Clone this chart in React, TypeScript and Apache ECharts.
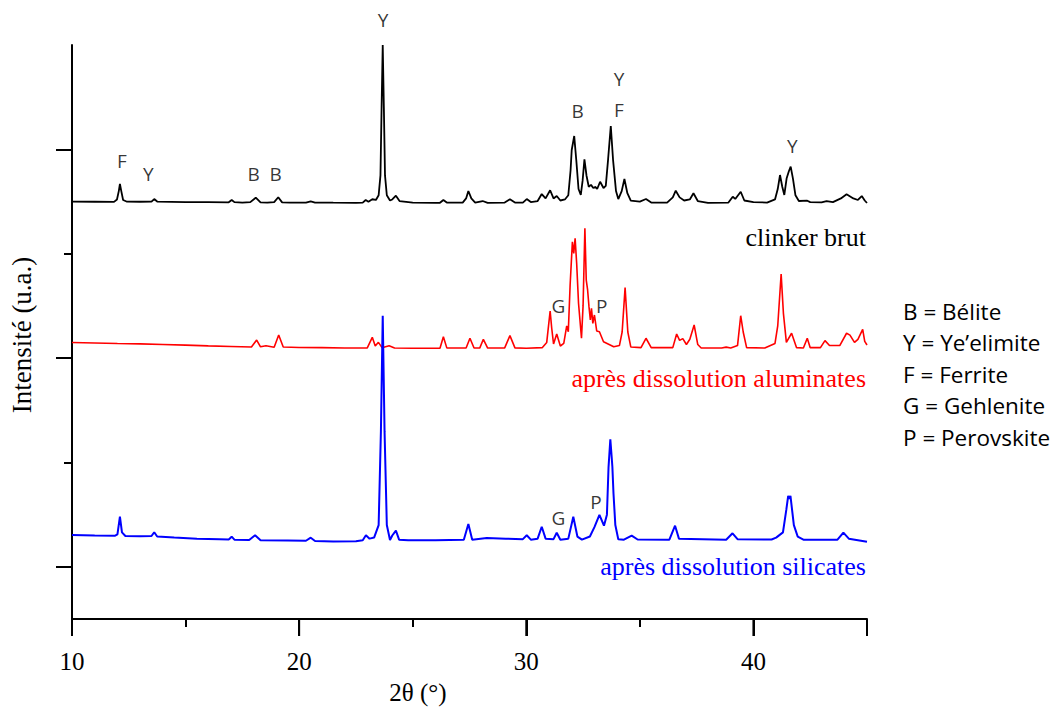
import React, { useEffect, useRef } from 'react';
import * as echarts from 'echarts';

// 2θ (°) / intensity (a.u., with vertical offsets)
const clinkerBrut: [number, number][] = [
  [10.0, 3.5], [11.0, 3.498], [11.85, 3.497], [11.98, 3.52], [12.06, 3.6], [12.11, 3.668], [12.17, 3.6], [12.25, 3.515],
  [12.4, 3.5], [13.0, 3.498], [13.5, 3.499], [13.62, 3.524], [13.75, 3.5], [15.0, 3.495], [16.0, 3.494], [16.9, 3.493],
  [17.03, 3.515], [17.15, 3.494], [17.5, 3.49], [17.85, 3.494], [18.09, 3.537], [18.3, 3.492], [18.6, 3.49], [18.9, 3.495],
  [19.08, 3.541], [19.25, 3.492], [19.6, 3.49], [20.3, 3.49], [20.51, 3.502], [20.7, 3.49], [21.5, 3.489], [22.5, 3.488],
  [22.8, 3.49], [22.93, 3.515], [23.05, 3.498], [23.22, 3.522], [23.38, 3.515], [23.5, 3.56], [23.58, 3.75], [23.63, 4.4],
  [23.68, 5.0], [23.73, 4.4], [23.78, 3.75], [23.86, 3.56], [24.0, 3.51], [24.1, 3.52], [24.26, 3.556], [24.42, 3.505],
  [25.0, 3.49], [26.0, 3.488], [26.2, 3.488], [26.35, 3.515], [26.5, 3.49], [27.2, 3.49], [27.35, 3.53], [27.45, 3.601],
  [27.58, 3.53], [27.75, 3.49], [28.08, 3.505], [28.3, 3.488], [29.05, 3.49], [29.28, 3.522], [29.5, 3.49], [29.85, 3.49],
  [30.02, 3.524], [30.2, 3.495], [30.5, 3.505], [30.68, 3.572], [30.85, 3.53], [31.05, 3.608], [31.2, 3.53], [31.34, 3.553],
  [31.5, 3.51], [31.7, 3.52], [31.85, 3.56], [31.95, 3.8], [32.0, 3.994], [32.11, 4.128], [32.2, 3.9], [32.3, 3.62],
  [32.4, 3.563], [32.48, 3.7], [32.56, 3.905], [32.65, 3.75], [32.75, 3.642], [32.85, 3.66], [32.95, 3.63], [33.05, 3.64],
  [33.12, 3.62], [33.25, 3.69], [33.4, 3.63], [33.5, 3.65], [33.6, 3.9], [33.72, 4.224], [33.82, 3.9], [33.95, 3.6],
  [34.05, 3.524], [34.2, 3.6], [34.32, 3.716], [34.45, 3.58], [34.6, 3.508], [35.0, 3.5], [35.27, 3.524], [35.5, 3.49],
  [36.2, 3.49], [36.45, 3.54], [36.58, 3.604], [36.75, 3.54], [36.95, 3.51], [37.2, 3.52], [37.36, 3.579], [37.55, 3.505],
  [38.0, 3.488], [38.9, 3.49], [39.09, 3.546], [39.2, 3.525], [39.44, 3.594], [39.6, 3.51], [40.0, 3.495], [40.6, 3.49],
  [40.95, 3.52], [41.07, 3.62], [41.17, 3.754], [41.27, 3.642], [41.36, 3.563], [41.46, 3.72], [41.56, 3.79], [41.64, 3.834],
  [41.74, 3.72], [41.85, 3.56], [42.0, 3.505], [42.37, 3.508], [42.5, 3.495], [43.0, 3.492], [43.22, 3.505], [43.5, 3.495],
  [43.85, 3.53], [44.1, 3.57], [44.4, 3.53], [44.6, 3.515], [44.77, 3.553], [44.9, 3.51], [45.0, 3.486],
];

const apresAluminates: [number, number][] = [
  [10.0, 2.15], [11.0, 2.145], [12.0, 2.14], [13.0, 2.136], [14.0, 2.13], [15.0, 2.124], [16.0, 2.117], [17.0, 2.111],
  [17.9, 2.106], [18.13, 2.173], [18.3, 2.108], [18.54, 2.118], [18.9, 2.104], [19.1, 2.221], [19.3, 2.106], [20.0, 2.102],
  [21.0, 2.1], [22.0, 2.097], [23.0, 2.098], [23.22, 2.199], [23.35, 2.115], [23.49, 2.151], [23.65, 2.1], [23.96, 2.119],
  [24.2, 2.097], [25.0, 2.095], [26.2, 2.095], [26.35, 2.205], [26.5, 2.098], [27.35, 2.096], [27.52, 2.19], [27.7, 2.097],
  [27.95, 2.096], [28.11, 2.18], [28.3, 2.096], [29.05, 2.098], [29.28, 2.215], [29.5, 2.098], [30.0, 2.095], [30.7, 2.1],
  [30.9, 2.15], [31.05, 2.451], [31.12, 2.286], [31.2, 2.135], [31.34, 2.231], [31.5, 2.116], [31.65, 2.14], [31.78, 2.308],
  [31.85, 2.253], [31.93, 2.7], [32.03, 3.115], [32.09, 3.004], [32.15, 3.148], [32.22, 2.9], [32.3, 2.525], [32.43, 2.19],
  [32.5, 2.5], [32.58, 3.244], [32.64, 2.748], [32.7, 2.653], [32.76, 2.493], [32.82, 2.365], [32.87, 2.477], [32.93, 2.333],
  [33.0, 2.413], [33.1, 2.26], [33.22, 2.253], [33.4, 2.157], [33.85, 2.109], [34.1, 2.12], [34.22, 2.25], [34.35, 2.675],
  [34.47, 2.25], [34.6, 2.107], [35.05, 2.1], [35.27, 2.19], [35.5, 2.1], [36.45, 2.1], [36.62, 2.231], [36.75, 2.17],
  [36.89, 2.187], [37.05, 2.13], [37.2, 2.18], [37.39, 2.317], [37.55, 2.13], [37.7, 2.097], [38.6, 2.096], [38.8, 2.105],
  [39.0, 2.096], [39.3, 2.12], [39.44, 2.406], [39.55, 2.25], [39.7, 2.1], [40.5, 2.096], [40.95, 2.14], [41.07, 2.308],
  [41.22, 2.806], [41.32, 2.429], [41.45, 2.15], [41.68, 2.238], [41.9, 2.1], [42.2, 2.096], [42.37, 2.19], [42.5, 2.1],
  [42.95, 2.1], [43.15, 2.167], [43.35, 2.12], [43.8, 2.12], [44.1, 2.238], [44.25, 2.22], [44.45, 2.15], [44.6, 2.18],
  [44.81, 2.276], [44.9, 2.16], [45.0, 2.125],
];

const apresSilicates: [number, number][] = [
  [10.0, 0.305], [11.0, 0.3], [11.9, 0.298], [12.0, 0.31], [12.11, 0.48], [12.2, 0.33], [12.35, 0.295], [13.0, 0.293],
  [13.5, 0.295], [13.62, 0.331], [13.75, 0.29], [14.5, 0.28], [15.5, 0.27], [16.5, 0.265], [16.9, 0.262], [17.03, 0.289],
  [17.15, 0.26], [17.8, 0.257], [18.06, 0.302], [18.3, 0.255], [19.5, 0.252], [20.3, 0.25], [20.51, 0.279], [20.7, 0.248],
  [21.5, 0.243], [22.5, 0.245], [22.8, 0.255], [22.94, 0.302], [23.1, 0.27], [23.3, 0.28], [23.5, 0.4], [23.6, 1.3],
  [23.68, 2.406], [23.76, 1.3], [23.86, 0.4], [24.0, 0.257], [24.1, 0.3], [24.26, 0.346], [24.4, 0.26], [24.8, 0.255],
  [26.0, 0.255], [27.25, 0.26], [27.45, 0.41], [27.62, 0.26], [28.26, 0.276], [29.1, 0.27], [29.85, 0.265], [30.02, 0.302],
  [30.2, 0.26], [30.5, 0.27], [30.68, 0.384], [30.85, 0.27], [31.2, 0.265], [31.34, 0.327], [31.5, 0.26], [31.85, 0.27],
  [32.07, 0.48], [32.25, 0.29], [32.45, 0.26], [32.8, 0.29], [33.0, 0.38], [33.22, 0.497], [33.42, 0.394], [33.55, 0.5],
  [33.62, 0.95], [33.7, 1.222], [33.76, 1.05], [33.79, 0.959], [33.84, 0.7], [33.92, 0.4], [34.05, 0.264], [34.3, 0.26],
  [34.64, 0.298], [34.9, 0.262], [36.3, 0.26], [36.55, 0.394], [36.72, 0.27], [38.8, 0.26], [39.08, 0.321], [39.3, 0.265],
  [40.8, 0.262], [41.0, 0.28], [41.3, 0.33], [41.45, 0.55], [41.53, 0.679], [41.58, 0.65], [41.63, 0.679], [41.78, 0.4],
  [41.95, 0.289], [42.2, 0.26], [43.7, 0.26], [43.96, 0.327], [44.2, 0.27], [45.0, 0.241],
];

// Phase annotations [2θ, intensity, letter]
const peakLabels: [number, number, string][] = [
  [12.2, 3.889, 'F'], [13.36, 3.761, 'Y'], [18.0, 3.761, 'B'], [18.97, 3.761, 'B'], [23.69, 5.24, 'Y'],
  [32.26, 4.368, 'B'], [34.08, 4.674, 'Y'], [34.08, 4.377, 'F'], [41.71, 4.035, 'Y'],
  [31.41, 2.499, 'G'], [33.32, 2.499, 'P'],
  [31.41, 0.465, 'G'], [33.07, 0.624, 'P'],
];

const seriesNames = ['clinker brut', 'après dissolution aluminates', 'après dissolution silicates'];
const seriesColors = ['#000000', '#ff0000', '#0000ff'];
const phaseLegend: [string, string][] = [
  ['B', 'Bélite'], ['Y', 'Ye’elimite'], ['F', 'Ferrite'], ['G', 'Gehlenite'], ['P', 'Perovskite'],
];

const xMajorTicks = [10, 20, 30, 40];
const xMinorTicks = [15, 25, 35, 45];
const xTickLabels = [10, 20, 30, 40];
const yMajorTicks = [0, 2, 4];
const yMinorTicks = [1, 3];

const SERIF = '"Liberation Serif", "Times New Roman", serif';
const SANS = '"Open Sans", "Noto Sans", sans-serif';

const X_MIN = 10;
const X_MAX = 45;
const Y_MIN = -0.5;
const Y_MAX = 5;

export default function App() {
  const ref = useRef<HTMLDivElement>(null);
  useEffect(() => {
    const chart = echarts.init(ref.current!, null, { renderer: 'svg' });
    const tickStyle = { color: '#000', width: 2 };
    const seriesLabelY = [237, 378, 566];
    const xBase = () => ({ type: 'value', min: X_MIN, max: X_MAX, position: 'bottom', offset: 0, splitLine: { show: false } });
    const yBase = () => ({ type: 'value', min: Y_MIN, max: Y_MAX, position: 'left', offset: 0, splitLine: { show: false } });
    chart.setOption({
      animation: false,
      backgroundColor: '#fff',
      grid: { left: 72, right: 188, top: 45, bottom: 89 },
      xAxis: [
        {
          // axis line + major ticks every 10 (min 10 is a multiple of the interval)
          ...xBase(),
          interval: 10,
          axisLine: { show: true, onZero: false, lineStyle: { ...tickStyle } },
          axisTick: { show: true, length: 17, lineStyle: { ...tickStyle } },
          axisLabel: { show: false },
        },
        {
          ...xBase(),
          axisLine: { show: false, onZero: false },
          axisTick: { show: true, customValues: xMinorTicks.slice(), length: 8, lineStyle: { ...tickStyle } },
          axisLabel: { show: false },
        },
        {
          ...xBase(),
          axisLine: { show: false, onZero: false },
          axisTick: { show: false },
          axisLabel: { show: true, customValues: xTickLabels.slice(), margin: 30, color: '#000', fontFamily: SERIF, fontSize: 25 },
        },
      ],
      yAxis: [
        {
          ...yBase(),
          axisLine: { show: true, onZero: false, lineStyle: { ...tickStyle } },
          axisTick: { show: true, customValues: yMajorTicks.slice(), length: 16, lineStyle: { ...tickStyle } },
          axisLabel: { show: false },
        },
        {
          ...yBase(),
          axisLine: { show: false, onZero: false },
          axisTick: { show: true, customValues: yMinorTicks.slice(), length: 8, lineStyle: { ...tickStyle } },
          axisLabel: { show: false },
        },
      ],
      series: [
        ...[clinkerBrut, apresAluminates, apresSilicates].map((d, i) => ({
          type: 'line', name: seriesNames[i], data: d, showSymbol: false, symbol: 'none', clip: false,
          xAxisIndex: 0, yAxisIndex: 0,
          lineStyle: { color: seriesColors[i], width: [1.8, 1.6, 2][i] },
        })),
        {
          type: 'scatter', name: 'phases', clip: false, symbolSize: 1, silent: true,
          xAxisIndex: 0, yAxisIndex: 0,
          itemStyle: { color: 'transparent' },
          data: peakLabels.map(([x, y, t]) => ({ value: [x, y], name: t })),
          label: { show: true, position: 'inside', formatter: '{b}', color: '#000', fontFamily: SANS, fontSize: 19 },
        },
      ],
    });

    // major x ticks (10, 20, 30, 40) also drawn as graphic lines placed through the x axis scale
    const majorTickLines = xMajorTicks.map((v) => {
      const p = chart.convertToPixel({ xAxisIndex: 0, yAxisIndex: 0 }, [v, Y_MIN]) as number[];
      return {
        type: 'line', silent: true, z: 100, zlevel: 0,
        shape: { x1: p[0], y1: p[1], x2: p[0], y2: p[1] + 17 },
        style: { stroke: '#000', lineWidth: 2 },
      };
    });

    chart.setOption({
      graphic: [
        ...majorTickLines,
        ...seriesNames.map((n, i) => ({
          type: 'text', x: 866, y: seriesLabelY[i],
          style: { text: n, fill: seriesColors[i], font: `26px ${SERIF}`, align: 'right', verticalAlign: 'middle' },
        })),
        ...phaseLegend.map(([k, v], i) => ({
          type: 'text', x: 903, y: 311 + i * 31.5,
          style: { text: `${k} = ${v}`, fill: '#000', font: `22.5px ${SANS}`, align: 'left', verticalAlign: 'middle' },
        })),
        {
          type: 'text', x: 418, y: 692,
          style: { text: '2θ (°)', fill: '#000', font: `25px ${SERIF}`, align: 'center', verticalAlign: 'middle' },
        },
        {
          type: 'text', x: 22, y: 335, rotation: Math.PI / 2,
          style: { text: 'Intensité (u.a.)', fill: '#000', font: `27px ${SERIF}`, align: 'center', verticalAlign: 'middle' },
        },
      ],
    });
    return () => chart.dispose();
  }, []);
  return <div ref={ref} style={{ position: 'fixed', left: 0, top: 0, width: 1055, height: 708 }} />;
}
